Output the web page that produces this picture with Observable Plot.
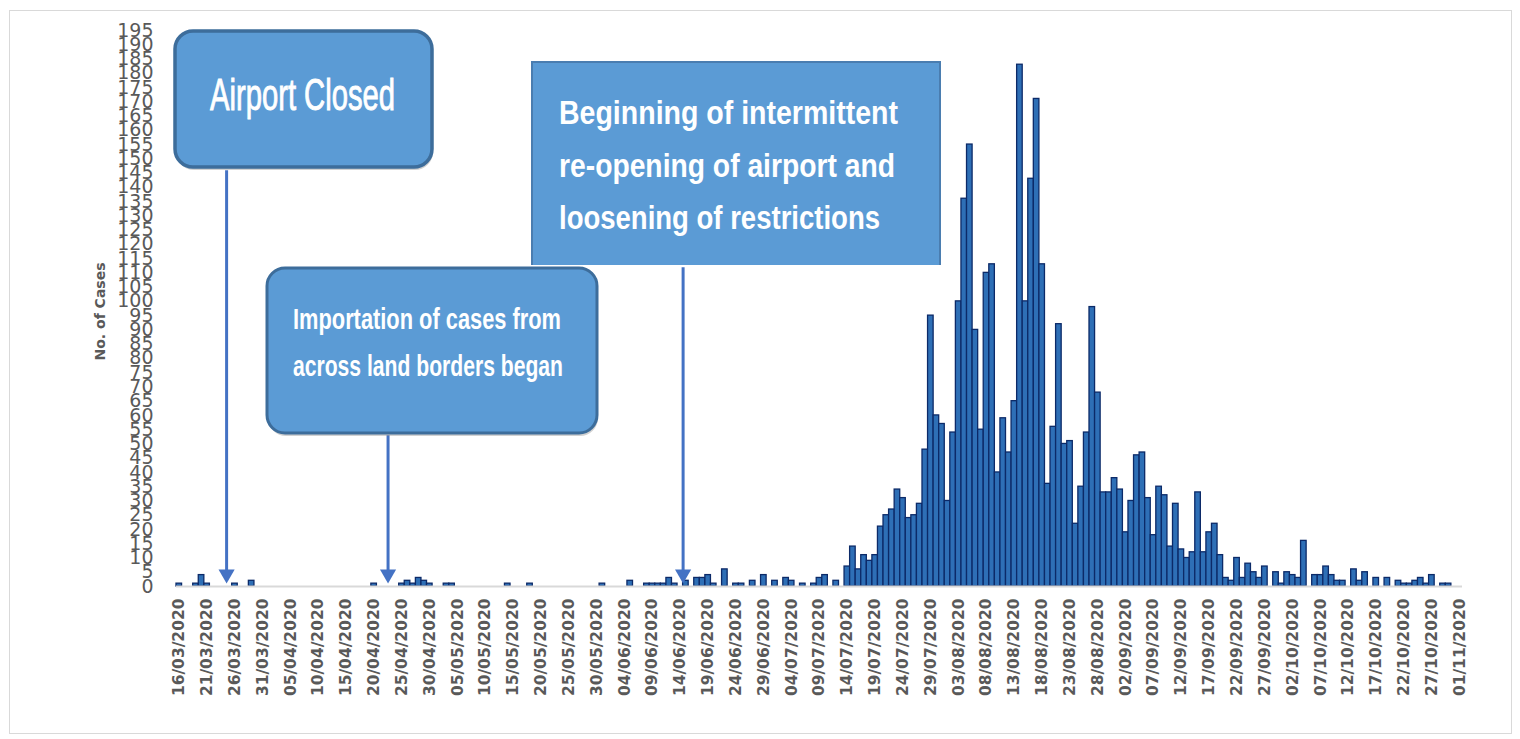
<!DOCTYPE html>
<html><head><meta charset="utf-8">
<script src="https://cdn.jsdelivr.net/npm/d3@7"></script>
<script src="https://cdn.jsdelivr.net/npm/@observablehq/plot@0.6"></script>
<style>
html,body{margin:0;padding:0;background:#fff;}
#wrap{position:relative;width:1520px;height:739px;overflow:hidden;background:#fff;}
#wrap svg{position:absolute;left:0;top:0;}
#frame{position:absolute;left:9px;top:10px;width:1503px;height:724px;border:1px solid #d9d9d9;box-sizing:border-box;pointer-events:none;}
</style></head>
<body><div id="wrap"><div id="frame"></div></div>
<script>
// ---- data ----
const startDate = "2020-03-16";
const endDate = "2020-11-02"; // exclusive end of the axis (01/11 included)
const cases = [
  1,0,0,1,4,1,0,0,0,0,
  1,0,0,2,0,0,0,0,0,0,
  0,0,0,0,0,0,0,0,0,0,
  0,0,0,0,0,1,0,0,0,0,
  1,2,1,3,2,1,0,0,1,1,
  0,0,0,0,0,0,0,0,0,1,
  0,0,0,1,0,0,0,0,0,0,
  0,0,0,0,0,0,1,0,0,0,
  0,2,0,0,1,1,1,1,3,1,
  0,2,0,3,3,4,1,0,6,0,
  1,1,0,2,0,4,0,2,0,3,
  2,0,1,0,1,3,4,0,2,0,
  7,14,6,11,9,11,21,25,27,34,
  31,24,25,29,48,95,60,57,30,54,
  100,136,155,90,55,110,113,40,59,47,
  65,183,100,143,171,113,36,56,92,50,
  51,22,35,54,98,68,33,33,38,34,
  19,30,46,47,31,18,35,32,14,29,
  13,10,12,33,12,19,22,11,3,2,
  10,3,8,5,3,7,0,5,1,5,
  4,3,16,0,4,4,7,4,2,2,
  0,6,2,5,0,3,0,3,0,2,
  1,1,2,3,1,4,0,1,1,0,
  0
];
const tickLabels = [
  "16/03/2020","21/03/2020","26/03/2020","31/03/2020","05/04/2020","10/04/2020",
  "15/04/2020","20/04/2020","25/04/2020","30/04/2020","05/05/2020","10/05/2020",
  "15/05/2020","20/05/2020","25/05/2020","30/05/2020","04/06/2020","09/06/2020",
  "14/06/2020","19/06/2020","24/06/2020","29/06/2020","04/07/2020","09/07/2020",
  "14/07/2020","19/07/2020","24/07/2020","29/07/2020","03/08/2020","08/08/2020",
  "13/08/2020","18/08/2020","23/08/2020","28/08/2020","02/09/2020","07/09/2020",
  "12/09/2020","17/09/2020","22/09/2020","27/09/2020","02/10/2020","07/10/2020",
  "12/10/2020","17/10/2020","22/10/2020","27/10/2020","01/11/2020"
];
const yTickValues = [0,5,10,15,20,25,30,35,40,45,50,55,60,65,70,75,80,85,90,95,
  100,105,110,115,120,125,130,135,140,145,150,155,160,165,170,175,180,185,190,195];
const yLabel = "No. of Cases";

// annotations: arrow dates and the value at which each arrow starts
const annoDates = ["2020-03-25", "2020-04-23", "2020-06-15"];
const annoFrom = [146, 53, 112];
const annoTo = [5, 5, 5];
const annoHead = [4.3, 4.3, 4.3];
const annoLines = [
  ["Airport Closed"],
  ["Importation of cases from", "across land borders began"],
  ["Beginning of intermittent", "re-opening of airport and", "loosening of restrictions"]
];

// ---- build tables ----
const start = new Date(startDate + "T00:00:00Z");
const end = new Date(endDate + "T00:00:00Z");
const data = cases.map((v, i) => ({date: new Date(+start + i * 864e5), value: v}));
const parseLabel = s => { const [d, m, y] = s.split("/").map(Number); return new Date(Date.UTC(y, m - 1, d, 12)); };
const tickDates = tickLabels.map(parseLabel);
const labelByTime = new Map(tickDates.map((d, i) => [+d, tickLabels[i]]));
const arrows = annoDates.map((d, i) => ({date: new Date(d + "T00:00:00Z"), from: annoFrom[i], to: annoTo[i], head: annoHead[i]}));

const grey = "#595959";
const chart = Plot.plot({
  width: 1520,
  height: 739,
  marginLeft: 176,
  marginRight: 58,
  marginTop: 30,
  marginBottom: 153,
  style: {fontFamily: "DejaVu Sans", color: grey, background: "transparent"},
  x: {type: "utc", domain: [start, end]},
  y: {domain: [0, 195]},
  marks: [
    Plot.rectY(data.filter(d => d.value > 0), {
      x: "date", y: "value", interval: "day",
      insetLeft: 0, insetRight: 0,
      fill: "#2e6fb6", stroke: "#0c2a68", strokeWidth: 1.3
    }),
    Plot.ruleY([0], {stroke: "#d9d9d9", strokeWidth: 2}),
    Plot.axisY(yTickValues, {
      tickSize: 0, tickPadding: 23, fontSize: 19, fill: grey, label: null
    }),
    Plot.axisX(tickDates, {
      tickSize: 0, tickPadding: 12, tickRotate: -90, fontSize: 15.5, fontWeight: "bold",
      fill: grey, label: null, tickFormat: d => labelByTime.get(+d)
    }),
    Plot.text([yLabel], {
      frameAnchor: "left", dx: -76, dy: 3, rotate: -90, textAnchor: "middle",
      fontSize: 14, fontWeight: "bold", fill: grey
    }),
    Plot.link(arrows, {x1: "date", x2: "date", y1: "from", y2: "to", stroke: "#4472c4", strokeWidth: 3}),
    Plot.dot(arrows, {x: "date", y: "head", symbol: "triangle", rotate: 180, r: 6, fill: "#4472c4", stroke: "none"})
  ]
});
document.getElementById("wrap").insertBefore(chart, document.getElementById("frame"));

// ---- callout boxes (drawn on top of the chart) ----
const boxes = [
  {x: 175, y: 31, w: 257, h: 136, rx: 18, sw: 3.5, cut: false,
   lines: [{x: 210, y: 110, w: 185, fs: 44, fw: "normal", sk: 0.9}]},
  {x: 267, y: 268, w: 330, h: 165, rx: 18, sw: 3, cut: false,
   lines: [{x: 293, y: 329, w: 268, fs: 30, fw: "bold", sk: 0}, {x: 293, y: 376, w: 270, fs: 30, fw: "bold", sk: 0}]},
  {x: 532, y: 62, w: 408, h: 203, rx: 0, sw: 2, cut: true,
   lines: [{x: 559, y: 124, w: 339, fs: 33, fw: "bold", sk: 0}, {x: 559, y: 177, w: 336, fs: 33, fw: "bold", sk: 0}, {x: 559, y: 229, w: 321, fs: 33, fw: "bold", sk: 0}]}
];
const svg = d3.select(chart);
const g = svg.append("g").attr("text-anchor", "start");
boxes.forEach((b, i) => {
  if (!b.cut) {
    g.append("rect").attr("x", b.x + 1).attr("y", b.y + 3).attr("width", b.w).attr("height", b.h)
      .attr("rx", b.rx).attr("fill", "rgba(0,0,0,0.18)");
    g.append("rect").attr("x", b.x).attr("y", b.y).attr("width", b.w).attr("height", b.h)
      .attr("rx", b.rx).attr("fill", "#5b9bd5").attr("stroke", "#3d6d9b").attr("stroke-width", b.sw);
  } else {
    g.append("rect").attr("x", b.x).attr("y", b.y).attr("width", b.w).attr("height", b.h)
      .attr("fill", "#5b9bd5");
    g.append("path").attr("d", `M${b.x},${b.y + b.h}V${b.y}H${b.x + b.w}V${b.y + b.h}`)
      .attr("fill", "none").attr("stroke", "#4a7db0").attr("stroke-width", b.sw);
  }
  b.lines.forEach((l, j) => {
    const t = g.append("text").attr("x", l.x).attr("y", l.y)
      .attr("text-anchor", "start")
      .attr("font-family", "'Liberation Sans Narrow', 'Liberation Sans', 'DejaVu Sans Condensed', sans-serif")
      .attr("font-size", l.fs).attr("font-weight", l.fw).attr("fill", "#ffffff")
      .attr("textLength", l.w).attr("lengthAdjust", "spacingAndGlyphs")
      .text(annoLines[i][j]);
    if (l.sk) t.attr("stroke", "#ffffff").attr("stroke-width", l.sk);
  });
});
</script>
</body></html>
